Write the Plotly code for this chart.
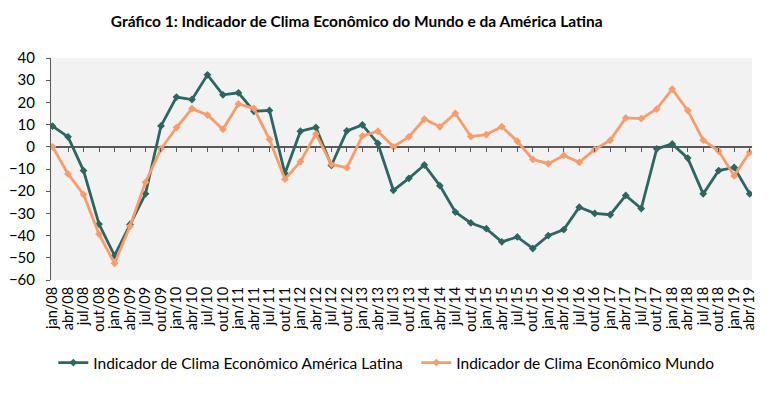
import plotly.graph_objects as go

labels = [
    "jan/08", "abr/08", "jul/08", "out/08",
    "jan/09", "abr/09", "jul/09", "out/09",
    "jan/10", "abr/10", "jul/10", "out/10",
    "jan/11", "abr/11", "jul/11", "out/11",
    "jan/12", "abr/12", "jul/12", "out/12",
    "jan/13", "abr/13", "jul/13", "out/13",
    "jan/14", "abr/14", "jul/14", "out/14",
    "jan/15", "abr/15", "jul/15", "out/15",
    "jan/16", "abr/16", "jul/16", "out/16",
    "jan/17", "abr/17", "jul/17", "out/17",
    "jan/18", "abr/18", "jul/18", "out/18",
    "jan/19", "abr/19",
]

america_latina = [
    9.3, 4.5, -10.7, -34.8,
    -49.0, -35.0, -21.2, 9.4,
    22.4, 21.3, 32.4, 23.4,
    24.3, 16.0, 16.4, -12.0,
    7.0, 8.7, -8.4, 7.2,
    9.9, 1.5, -19.6, -14.2,
    -8.2, -17.5, -29.4, -34.3,
    -36.9, -42.8, -40.6, -45.8,
    -40.0, -37.3, -27.2, -30.0,
    -30.6, -21.9, -27.8, -0.9,
    1.3, -5.1, -21.2, -10.7,
    -9.3, -21.2,
]

mundo = [
    0.0, -12.2, -21.5, -39.3,
    -52.5, -35.8, -16.0, -1.0,
    8.7, 17.2, 14.3, 7.9,
    19.3, 17.3, 3.4, -14.6,
    -6.7, 5.8, -7.9, -9.4,
    4.9, 7.0, 0.0, 4.5,
    12.5, 9.0, 15.1, 4.6,
    5.5, 9.1, 2.5, -5.7,
    -7.6, -3.9, -7.0, -1.2,
    3.0, 13.0, 12.7, 17.0,
    26.0, 16.4, 3.0, -1.9,
    -13.1, -2.5,
]

y_ticks = [40, 30, 20, 10, 0, -10, -20, -30, -40, -50, -60]

series_names = [
    "Indicador de Clima Econômico América Latina",
    "Indicador de Clima Econômico Mundo",
]
title_text = "Gráfico 1: Indicador de Clima Econômico do Mundo e da América Latina"

GREEN = "#2d6560"
ORANGE = "#f79c6b"
FONT = "Lato, 'Open Sans', sans-serif"

x = list(range(len(labels)))

fig = go.Figure()
fig.add_trace(go.Scatter(
    x=x, y=america_latina, name=series_names[0], mode="lines+markers",
    line=dict(color=GREEN, width=2.8),
    marker=dict(symbol="diamond", size=6, color=GREEN),
))
fig.add_trace(go.Scatter(
    x=x, y=mundo, name=series_names[1], mode="lines+markers",
    line=dict(color=ORANGE, width=2.8),
    marker=dict(symbol="diamond", size=6, color=ORANGE),
))
# invisible helper trace on the tick-mark axis placed at the zero line
fig.add_trace(go.Scatter(
    x=x, y=[None] * len(x), xaxis="x2", yaxis="y",
    showlegend=False, hoverinfo="skip", mode="lines",
))

# the page body adds an 8px offset, so the figure is 8px smaller
fig.update_layout(
    width=771, height=386,
    margin=dict(l=43, r=27, t=50, b=114, autoexpand=False),
    paper_bgcolor="white",
    plot_bgcolor="#f2f2f2",
    font=dict(family=FONT, size=14, color="#000000"),
    title=dict(
        text="<b>" + title_text + "</b>",
        x=0.4523, xref="container", xanchor="center",
        y=0.966, yref="container", yanchor="middle",
        font=dict(family=FONT, size=15.5, color="#000000"),
    ),
    xaxis=dict(
        range=[-0.1, len(labels) - 1 + 0.15],
        tickmode="array", tickvals=x, ticktext=labels,
        tickangle=-90, ticks="", showline=False, showgrid=False,
        zeroline=False, tickfont=dict(size=14.5), ticklabelstandoff=3,
    ),
    xaxis2=dict(
        overlaying="x", matches="x", anchor="free", position=0.6,
        side="bottom",
        tickmode="array", tickvals=x[1:], showticklabels=False,
        ticks="outside", ticklen=4, tickcolor="#595959", tickwidth=1,
        showline=False, showgrid=False, zeroline=False,
    ),
    yaxis=dict(
        range=[-60, 40], tickmode="array", tickvals=y_ticks,
        ticks="outside", ticklen=4, tickcolor="#595959",
        showline=True, linecolor="#595959", linewidth=1,
        showgrid=False, zeroline=True, zerolinecolor="#595959",
        zerolinewidth=1.5, tickfont=dict(size=15), ticklabelstandoff=8,
    ),
    legend=dict(
        orientation="h", x=-0.001, xanchor="left", xref="paper",
        y=-0.374, yanchor="middle", indentation=3,
        entrywidth=315, entrywidthmode="pixels",
        font=dict(size=15.5), bgcolor="rgba(0,0,0,0)",
    ),
)

fig.write_html("out.html")
